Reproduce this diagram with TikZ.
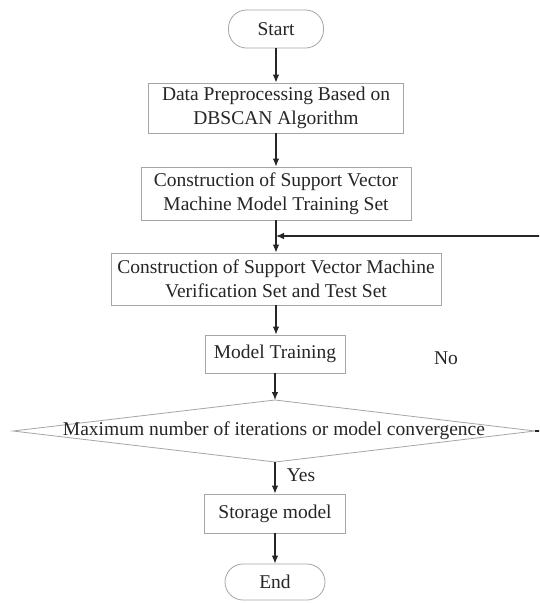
\documentclass[tikz,border=0pt]{standalone}
\usepackage{fontspec}
\setmainfont{Liberation Serif}
\usetikzlibrary{arrows.meta,shapes.geometric}
\begin{document}
\begin{tikzpicture}[x=1pt,y=-1pt,
  every node/.style={font=\fontsize{19.5}{23.5}\selectfont, text=black!85, inner sep=0pt},
  procbox/.style={draw=black!35, line width=0.8pt, rectangle, align=center},
  termbox/.style={draw=black!35, line width=0.8pt, rectangle, rounded corners=18pt},
  flow/.style={draw=black!85, line width=1.1pt, -{Latex[length=8pt,width=6.5pt]}},
  plainline/.style={draw=black!85, line width=1.1pt}]
\clip (0,0) rectangle (539,603);
\fill[white] (0,0) rectangle (539,603);

\node[termbox, minimum width=95pt, minimum height=38pt] (start) at (276,29) {Start};
\node[procbox, minimum width=255pt, minimum height=50pt] (b1) at (276,108) {Data Preprocessing Based on\\DBSCAN Algorithm};
\node[procbox, minimum width=270pt, minimum height=53pt] (b2) at (276,193.5) {Construction of Support Vector\\Machine Model Training Set};
\node[procbox, minimum width=330pt, minimum height=52pt] (b3) at (276,279) {Construction of Support Vector Machine\\Verification Set and Test Set};
\node[procbox, minimum width=140pt, minimum height=38pt] (mt) at (275,354) {Model Training};
\draw[draw=black!35, line width=0.8pt] (13,431) coordinate (dw) -- (275,400) coordinate (dn) -- (535,431) coordinate (de) -- (275,462) coordinate (ds) -- cycle;
\node (dtext) at (274,431) {Maximum number of iterations or model convergence};
\node[procbox, minimum width=141pt, minimum height=39pt] (st) at (275,513.5) {Storage model};
\node[termbox, minimum width=100pt, minimum height=36pt] (end) at (275,582) {End};

\node (no) at (446,358) {No};
\node (yes) at (301,475) {Yes};

\coordinate (join) at (276,236);
\coordinate (farright) at (560,431);

\draw[flow] (start) -- (b1);
\draw[flow] (b1) -- (b2);
\draw[flow] (b2) -- (b3);
\draw[flow] (b3) -- (mt.north -| b3);
\draw[flow] (mt) -- (dn);
\draw[flow] (ds) -- (st);
\draw[flow] (st) -- (end);
\draw[flow] (de) -- (farright) |- (join);
\end{tikzpicture}
\end{document}
